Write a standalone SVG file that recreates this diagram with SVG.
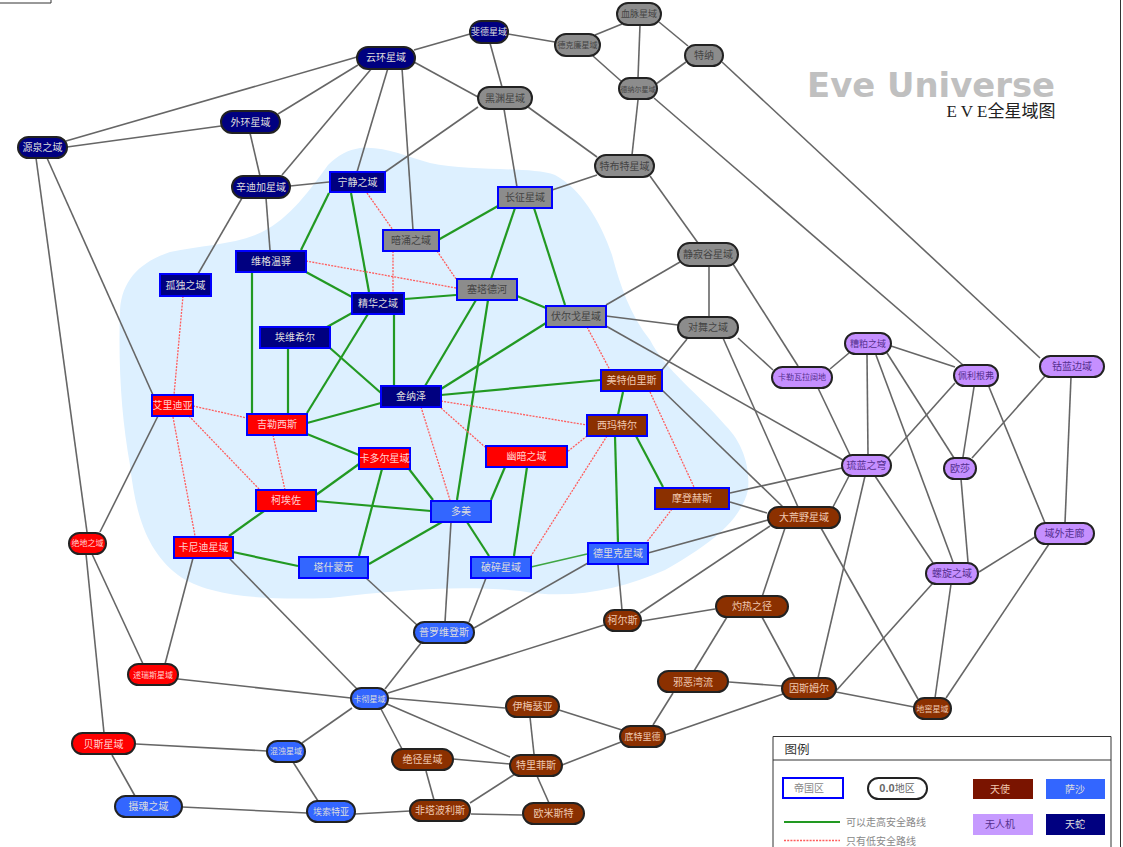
<svg xmlns="http://www.w3.org/2000/svg" width="1123" height="847" viewBox="0 0 1123 847">
<style>
text{font-family:"Noto Sans CJK SC","Liberation Sans",sans-serif;font-size:10px;text-anchor:middle}
.c line{fill:none}
.g{stroke:#666;stroke-width:1.600}
.s{stroke:#229922;stroke-width:2.200}
.r{stroke:#ff5c5c;stroke-width:1.300;stroke-dasharray:2 1.200}
.b{stroke:#0000ff;stroke-width:2}
.k{stroke:#222;stroke-width:2}
.navy{fill:#000080}.gray{fill:#8c8c8c}.red{fill:#ff0000}.sansha{fill:#3366ff}.brown{fill:#8b3000}.purple{fill:#c58fff}
.tl{fill:#ddd}.td{fill:#444}.tp{fill:#55308f}.tr{fill:#ffd0d0}.tb{fill:#f0c8b0}.sm{font-size:8px}.xs{font-size:7px}.ms{font-size:9px}
</style>
<rect width="1123" height="847" fill="#fff"/>
<path d="M360 148C385 146 405 156 430 163C470 172 530 166 555 175C580 188 600 220 612 255C620 285 630 315 650 340C665 370 700 395 725 425C745 445 750 470 748 490C740 525 700 550 665 570C620 590 570 600 520 591C460 585 400 590 330 598C270 600 210 598 178 575C145 550 135 510 130 465C122 420 118 370 120 310C122 280 140 262 170 252C200 245 235 245 262 232C290 218 310 190 328 165C338 155 348 150 360 148Z" fill="#ddf0ff"/>
<g id="frame" fill="none" stroke="#333" stroke-width="1"><path d="M0 3H51V0"/><path d="M1120.500 0V847"/></g>
<g id="title"><text x="931" y="97" style="font-family:'DejaVu Sans',sans-serif;font-size:33px;font-weight:bold" textLength="248" lengthAdjust="spacingAndGlyphs" fill="#c0c0c0">Eve Universe</text><text x="1001" y="117" style="font-family:'Liberation Serif','Noto Sans CJK SC',serif;font-size:17px" fill="#222">E V E全星域图</text></g>
<g id="connectors" class="c">
<g class="g">
<line x1="66" y1="141" x2="357" y2="57"/><line x1="67" y1="147" x2="221" y2="126"/><line x1="278" y1="114" x2="358" y2="65"/><line x1="250" y1="133" x2="260" y2="176"/><line x1="282" y1="175" x2="372" y2="68"/><line x1="357" y1="172" x2="388" y2="68"/><line x1="413" y1="230" x2="402" y2="68"/><line x1="290" y1="186" x2="329" y2="182"/><line x1="385" y1="172" x2="478" y2="107"/><line x1="242" y1="198" x2="198" y2="274"/><line x1="266" y1="198" x2="270" y2="250"/><line x1="36" y1="158" x2="87" y2="532"/><line x1="47" y1="158" x2="153" y2="395"/>
<line x1="414" y1="50" x2="470" y2="34"/><line x1="414" y1="62" x2="478" y2="97"/><line x1="508" y1="34" x2="555" y2="42"/><line x1="490" y1="43" x2="502" y2="87"/><line x1="595" y1="35" x2="622" y2="24"/><line x1="593" y1="56" x2="621" y2="81"/><line x1="640" y1="25" x2="638" y2="78"/><line x1="659" y1="22" x2="688" y2="46"/><line x1="686" y1="62" x2="656" y2="84"/><line x1="638" y1="100" x2="632" y2="155"/><line x1="654" y1="98" x2="963" y2="365"/><line x1="722" y1="62" x2="1040" y2="358"/><line x1="504" y1="109" x2="517" y2="187"/><line x1="528" y1="107" x2="597" y2="157"/><line x1="597" y1="175" x2="552" y2="190"/><line x1="650" y1="176" x2="698" y2="243"/><line x1="680" y1="262" x2="606" y2="305"/><line x1="709" y1="266" x2="709" y2="317"/><line x1="733" y1="264" x2="798" y2="366"/>
<line x1="606" y1="316" x2="678" y2="325"/><line x1="606" y1="326" x2="843" y2="460"/><line x1="662" y1="390" x2="783" y2="507"/><line x1="158" y1="416" x2="100" y2="532"/><line x1="92" y1="554" x2="143" y2="664"/><line x1="86" y1="554" x2="104" y2="733"/><line x1="193" y1="558" x2="165" y2="664"/><line x1="229" y1="558" x2="357" y2="689"/><line x1="178" y1="679" x2="351" y2="698"/><line x1="421" y1="643" x2="385" y2="689"/><line x1="388" y1="693" x2="604" y2="625"/><line x1="388" y1="698" x2="505" y2="708"/><line x1="387" y1="704" x2="510" y2="757"/><line x1="381" y1="709" x2="402" y2="749"/><line x1="352" y1="708" x2="302" y2="743"/><line x1="136" y1="744" x2="267" y2="751"/><line x1="112" y1="755" x2="135" y2="796"/><line x1="293" y1="762" x2="318" y2="801"/><line x1="182" y1="807" x2="307" y2="813"/><line x1="355" y1="814" x2="410" y2="811"/><line x1="426" y1="771" x2="434" y2="800"/><line x1="453" y1="759" x2="510" y2="764"/><line x1="470" y1="803" x2="515" y2="774"/><line x1="471" y1="814" x2="522" y2="815"/><line x1="537" y1="776" x2="549" y2="803"/><line x1="530" y1="717" x2="534" y2="754"/><line x1="559" y1="710" x2="622" y2="730"/><line x1="562" y1="765" x2="621" y2="742"/><line x1="653" y1="725" x2="673" y2="693"/><line x1="665" y1="735" x2="783" y2="694"/><line x1="694" y1="671" x2="727" y2="617"/><line x1="729" y1="682" x2="782" y2="686"/><line x1="762" y1="617" x2="795" y2="678"/><line x1="642" y1="621" x2="715" y2="609"/><line x1="640" y1="613" x2="770" y2="526"/><line x1="618" y1="565" x2="622" y2="610"/><line x1="588" y1="563" x2="474" y2="628"/><line x1="648" y1="553" x2="768" y2="520"/><line x1="730" y1="493" x2="842" y2="468"/><line x1="730" y1="502" x2="767" y2="513"/><line x1="785" y1="528" x2="762" y2="597"/><line x1="821" y1="528" x2="918" y2="699"/><line x1="833" y1="507" x2="849" y2="476"/><line x1="723" y1="338" x2="798" y2="507"/><line x1="687" y1="339" x2="662" y2="370"/><line x1="738" y1="338" x2="773" y2="370"/><line x1="830" y1="369" x2="849" y2="353"/><line x1="818" y1="388" x2="850" y2="455"/><line x1="867" y1="355" x2="868" y2="455"/><line x1="876" y1="355" x2="953" y2="562"/><line x1="887" y1="353" x2="954" y2="458"/><line x1="891" y1="346" x2="955" y2="367"/><line x1="955" y1="383" x2="888" y2="458"/><line x1="974" y1="387" x2="963" y2="457"/><line x1="989" y1="387" x2="1045" y2="523"/><line x1="1045" y1="376" x2="972" y2="458"/><line x1="1071" y1="377" x2="1065" y2="523"/><line x1="961" y1="479" x2="968" y2="562"/><line x1="875" y1="476" x2="933" y2="563"/><line x1="865" y1="476" x2="818" y2="678"/><line x1="979" y1="572" x2="1035" y2="537"/><line x1="933" y1="583" x2="835" y2="692"/><line x1="951" y1="584" x2="935" y2="698"/><line x1="1049" y1="544" x2="946" y2="698"/><line x1="836" y1="692" x2="914" y2="707"/><line x1="366" y1="578" x2="417" y2="625"/><line x1="451" y1="522" x2="445" y2="622"/><line x1="486" y1="578" x2="469" y2="622"/>
</g>
<g class="s">
<line x1="329" y1="193" x2="301" y2="250"/><line x1="351" y1="193" x2="369" y2="292"/><line x1="306" y1="272" x2="352" y2="297"/><line x1="252" y1="272" x2="252" y2="413"/><line x1="438" y1="240" x2="498" y2="206"/><line x1="515" y1="208" x2="491" y2="279"/><line x1="534" y1="208" x2="565" y2="305"/><line x1="456" y1="295" x2="405" y2="299"/><line x1="517" y1="296" x2="546" y2="308"/><line x1="476" y1="300" x2="425" y2="386"/><line x1="488" y1="300" x2="457" y2="500"/><line x1="441" y1="389" x2="546" y2="323"/><line x1="441" y1="395" x2="601" y2="380"/><line x1="352" y1="313" x2="327" y2="327"/><line x1="368" y1="314" x2="307" y2="413"/><line x1="394" y1="314" x2="394" y2="385"/><line x1="288" y1="348" x2="288" y2="413"/><line x1="330" y1="348" x2="381" y2="393"/><line x1="307" y1="423" x2="381" y2="403"/><line x1="307" y1="434" x2="359" y2="455"/><line x1="359" y1="464" x2="316" y2="495"/><line x1="382" y1="469" x2="359" y2="556"/><line x1="409" y1="469" x2="433" y2="500"/><line x1="316" y1="501" x2="431" y2="511"/><line x1="264" y1="511" x2="229" y2="536"/><line x1="233" y1="552" x2="298" y2="566"/><line x1="369" y1="564" x2="442" y2="522"/><line x1="467" y1="522" x2="489" y2="556"/><line x1="491" y1="500" x2="505" y2="467"/><line x1="527" y1="467" x2="514" y2="556"/><line x1="615" y1="436" x2="618" y2="543"/><line x1="636" y1="436" x2="663" y2="487"/><line x1="623" y1="392" x2="618" y2="415"/>
<line x1="531" y1="567" x2="587" y2="554" stroke-width="1.500" opacity=".85"/>
</g>
<g class="r">
<line x1="367" y1="193" x2="393" y2="230"/><line x1="306" y1="261" x2="456" y2="288"/><line x1="393" y1="251" x2="393" y2="292"/><line x1="183" y1="296" x2="174" y2="395"/><line x1="437" y1="251" x2="456" y2="279"/><line x1="587" y1="327" x2="610" y2="370"/><line x1="441" y1="401" x2="587" y2="425"/><line x1="441" y1="408" x2="485" y2="447"/><line x1="421" y1="407" x2="450" y2="500"/><line x1="193" y1="406" x2="247" y2="418"/><line x1="189" y1="416" x2="260" y2="490"/><line x1="173" y1="417" x2="195" y2="536"/><line x1="273" y1="435" x2="285" y2="490"/><line x1="587" y1="436" x2="567" y2="452"/><line x1="607" y1="436" x2="531" y2="556"/><line x1="650" y1="392" x2="694" y2="487"/><line x1="672" y1="509" x2="646" y2="543"/>
</g>
</g>
<g id="yuanquan"><rect class="navy k" x="18" y="137" width="49" height="21" rx="10.500"/><text class="tl" x="42.500" y="151">源泉之域</text></g>
<g id="waihuan"><rect class="navy k" x="221" y="111" width="59" height="22" rx="11"/><text class="tl" x="250.500" y="126">外环星域</text></g>
<g id="yunhuan"><rect class="navy k" x="357" y="47" width="58" height="22" rx="11"/><text class="tl" x="386" y="61">云环星域</text></g>
<g id="xindijia"><rect class="navy k" x="232" y="176" width="58" height="22" rx="11"/><text class="tl" x="261" y="191">辛迪加星域</text></g>
<g id="feide"><rect class="navy k" x="470" y="21" width="38" height="22" rx="11"/><text class="tl ms" x="489" y="35">斐德星域</text></g>
<g id="dekelian"><rect class="gray k" x="555" y="34" width="45" height="22" rx="11"/><text class="td sm" x="577.500" y="48">德克廉星域</text></g>
<g id="xuemai"><rect class="gray k" x="617" y="3" width="44" height="22" rx="11"/><text class="td ms" x="639" y="17">血脉星域</text></g>
<g id="tena"><rect class="gray k" x="685" y="45" width="38" height="21" rx="10.500"/><text class="td" x="704" y="59">特纳</text></g>
<g id="dena"><rect class="gray k" x="619" y="78" width="38" height="21" rx="10.500"/><text class="td xs" x="638" y="92">德纳尔星域</text></g>
<g id="heiyuan"><rect class="gray k" x="478" y="87" width="54" height="22" rx="11"/><text class="td" x="505" y="102">黑渊星域</text></g>
<g id="tebute"><rect class="gray k" x="595" y="155" width="59" height="22" rx="11"/><text class="td" x="624.500" y="170">特布特星域</text></g>
<g id="jingjigu"><rect class="gray k" x="678" y="243" width="60" height="23" rx="11.500"/><text class="td" x="708" y="258">静寂谷星域</text></g>
<g id="duiwu"><rect class="gray k" x="678" y="317" width="60" height="21" rx="10.500"/><text class="td" x="708" y="331">对舞之域</text></g>
<g id="ningjing"><rect class="navy b" x="330" y="172" width="55" height="20"/><text class="tl" x="357.500" y="186">宁静之域</text></g>
<g id="anyong"><rect class="gray b" x="383" y="230" width="56" height="21"/><text class="td" x="411" y="244">暗涌之域</text></g>
<g id="changzheng"><rect class="gray b" x="498" y="187" width="54" height="21"/><text class="td" x="525" y="201">长征星域</text></g>
<g id="weige"><rect class="navy b" x="236" y="251" width="70" height="21"/><text class="tl" x="271" y="265">维格温驿</text></g>
<g id="gudu"><rect class="navy b" x="160" y="274" width="51" height="22"/><text class="tl" x="185.500" y="289">孤独之域</text></g>
<g id="jinghua"><rect class="navy b" x="352" y="293" width="52" height="21"/><text class="tl" x="378" y="307">精华之域</text></g>
<g id="saita"><rect class="gray b" x="457" y="279" width="60" height="21"/><text class="td" x="487" y="293">塞塔德河</text></g>
<g id="fuerge"><rect class="gray b" x="546" y="306" width="60" height="21"/><text class="td" x="576" y="320">伏尔戈星域</text></g>
<g id="aiwei"><rect class="navy b" x="260" y="327" width="70" height="21"/><text class="tl" x="295" y="341">埃维希尔</text></g>
<g id="jinna"><rect class="navy b" x="381" y="386" width="60" height="21"/><text class="tl" x="411" y="400">金纳泽</text></g>
<g id="meite"><rect class="brown b" x="601" y="370" width="61" height="21"/><text class="tb" x="631.500" y="384">美特伯里斯</text></g>
<g id="xima"><rect class="brown b" x="587" y="415" width="60" height="21"/><text class="tb" x="617" y="429">西玛特尔</text></g>
<g id="aili"><rect class="red b" x="152" y="395" width="41" height="21"/><text class="tr" x="172.500" y="409">艾里迪亚</text></g>
<g id="jile"><rect class="red b" x="247" y="414" width="60" height="21"/><text class="tr" x="277" y="428">吉勒西斯</text></g>
<g id="kaduo"><rect class="red b" x="359" y="448" width="51" height="21"/><text class="tr" x="384.500" y="462">卡多尔星域</text></g>
<g id="youan"><rect class="red b" x="486" y="446" width="81" height="21"/><text class="tr" x="526.500" y="460">幽暗之域</text></g>
<g id="moden"><rect class="brown b" x="655" y="488" width="74" height="21"/><text class="tb" x="692" y="502">摩登赫斯</text></g>
<g id="kezuo"><rect class="red b" x="256" y="490" width="60" height="21"/><text class="tr" x="286" y="504">柯埃佐</text></g>
<g id="duomei"><rect class="sansha b" x="431" y="501" width="60" height="21"/><text class="tl" x="461" y="515">多美</text></g>
<g id="kani"><rect class="red b" x="174" y="537" width="59" height="21"/><text class="tr" x="203.500" y="551">卡尼迪星域</text></g>
<g id="tashi"><rect class="sansha b" x="299" y="557" width="69" height="21"/><text class="tl" x="333.500" y="571">塔什蒙贡</text></g>
<g id="posui"><rect class="sansha b" x="471" y="557" width="60" height="21"/><text class="tl" x="501" y="571">破碎星域</text></g>
<g id="deli"><rect class="sansha b" x="588" y="543" width="60" height="21"/><text class="tl" x="618" y="557">德里克星域</text></g>
<g id="dahuang"><rect class="brown k" x="768" y="507" width="72" height="21" rx="10.500"/><text class="tb" x="804" y="521">大荒野星域</text></g>
<g id="puluo"><rect class="sansha k" x="414" y="622" width="60" height="21" rx="10.500"/><text class="tl" x="444" y="636">普罗维登斯</text></g>
<g id="keer"><rect class="brown k" x="604" y="610" width="37" height="21" rx="10.500"/><text class="tb" x="622.500" y="624">柯尔斯</text></g>
<g id="zhuore"><rect class="brown k" x="716" y="596" width="72" height="21" rx="10.500"/><text class="tb" x="752" y="610">灼热之径</text></g>
<g id="xiee"><rect class="brown k" x="658" y="671" width="70" height="21" rx="10.500"/><text class="tb" x="693" y="686">邪恶湾流</text></g>
<g id="yinsi"><rect class="brown k" x="782" y="678" width="54" height="21" rx="10.500"/><text class="tb" x="809" y="692">因斯姆尔</text></g>
<g id="dijiao"><rect class="brown k" x="914" y="698" width="37" height="21" rx="10.500"/><text class="tb sm" x="932.500" y="712">地窖星域</text></g>
<g id="yimei"><rect class="brown k" x="506" y="696" width="53" height="21" rx="10.500"/><text class="tb" x="532.500" y="710">伊梅瑟亚</text></g>
<g id="dite"><rect class="brown k" x="620" y="726" width="45" height="21" rx="10.500"/><text class="tb ms" x="642.500" y="740">底特里德</text></g>
<g id="teli"><rect class="brown k" x="510" y="755" width="52" height="21" rx="10.500"/><text class="tb" x="536" y="769">特里菲斯</text></g>
<g id="juejing"><rect class="brown k" x="392" y="749" width="61" height="21" rx="10.500"/><text class="tb" x="422.500" y="763">绝径星域</text></g>
<g id="feita"><rect class="brown k" x="410" y="800" width="60" height="21" rx="10.500"/><text class="tb" x="440" y="814">非塔波利斯</text></g>
<g id="oumi"><rect class="brown k" x="523" y="803" width="61" height="21" rx="10.500"/><text class="tb" x="553.500" y="817">欧米斯特</text></g>
<g id="aisuo"><rect class="sansha k" x="307" y="801" width="48" height="21" rx="10.500"/><text class="tl ms" x="331" y="815">埃索特亚</text></g>
<g id="shehun"><rect class="sansha k" x="115" y="796" width="67" height="21" rx="10.500"/><text class="tl" x="148.500" y="810">摄魂之域</text></g>
<g id="beisi"><rect class="red k" x="72" y="733" width="63" height="21" rx="10.500"/><text class="tr" x="103.500" y="748">贝斯星域</text></g>
<g id="hunzhuo"><rect class="sansha k" x="267" y="741" width="38" height="21" rx="10.500"/><text class="tl sm" x="286" y="754">混浊星域</text></g>
<g id="kache"><rect class="sansha k" x="351" y="688" width="37" height="21" rx="10.500"/><text class="tl sm" x="369.500" y="702">卡彻星域</text></g>
<g id="qiurui"><rect class="red k" x="128" y="664" width="50" height="21" rx="10.500"/><text class="tr sm" x="153" y="678">逑瑞斯星域</text></g>
<g id="juedi"><rect class="red k" x="69" y="533" width="37" height="21" rx="10.500"/><text class="tr sm" x="87.500" y="546">绝地之域</text></g>
<g id="zaopo"><rect class="purple k" x="845" y="333" width="46" height="21" rx="10.500"/><text class="tp ms" x="868" y="347">糟粕之域</text></g>
<g id="kalewala"><rect class="purple k" x="772" y="367" width="60" height="21" rx="10.500"/><text class="tp sm" x="802" y="380">卡勒瓦拉阔地</text></g>
<g id="peili"><rect class="purple k" x="954" y="365" width="44" height="21" rx="10.500"/><text class="tp ms" x="976" y="379">佩利根弗</text></g>
<g id="gulan"><rect class="purple k" x="1040" y="356" width="64" height="21" rx="10.500"/><text class="tp" x="1072" y="370">钴蓝边域</text></g>
<g id="liulan"><rect class="purple k" x="842" y="455" width="49" height="21" rx="10.500"/><text class="tp" x="866.500" y="469">琉蓝之穹</text></g>
<g id="ousha"><rect class="purple k" x="944" y="458" width="32" height="21" rx="10.500"/><text class="tp" x="960" y="472">欧莎</text></g>
<g id="yuwai"><rect class="purple k" x="1035" y="523" width="59" height="21" rx="10.500"/><text class="tp" x="1064.500" y="537">域外走廊</text></g>
<g id="luoxuan"><rect class="purple k" x="926" y="563" width="52" height="21" rx="10.500"/><text class="tp" x="952" y="577">螺旋之域</text></g>
<g id="legend">
<path d="M773 847V736.500H1111V847M773 760H1111" fill="#fff" stroke="#333" stroke-width="1"/>
<text x="797" y="754" style="font-size:12.500px" fill="#333">图例</text>
<rect class="b" x="783" y="778" width="60" height="20" fill="#fff"/><text x="809" y="792" fill="#888">帝国区</text>
<rect class="k" x="868" y="778" width="59" height="21" rx="10.500" fill="#fff"/><text x="897" y="792" fill="#666"><tspan style="font-family:'Liberation Sans',sans-serif;font-weight:bold;font-size:11px">0.0</tspan>地区</text>
<rect x="973" y="779" width="60" height="20" fill="#7a1400"/><text class="tb" x="1000" y="793">天使</text>
<rect class="sansha" x="1046" y="779" width="59" height="20"/><text class="tl" x="1075" y="793">萨沙</text>
<rect x="973" y="814" width="60" height="21" fill="#c69aff"/><text class="tp" x="1000" y="828">无人机</text>
<rect class="navy" x="1046" y="814" width="59" height="21"/><text class="tl" x="1075" y="828">天蛇</text>
<line class="s" x1="784" y1="822" x2="840" y2="822"/><text x="886" y="826" fill="#888">可以走高安全路线</text>
<line class="r" x1="784" y1="840.500" x2="840" y2="840.500"/><text x="881" y="845" fill="#888">只有低安全路线</text>
</g>
</svg>
